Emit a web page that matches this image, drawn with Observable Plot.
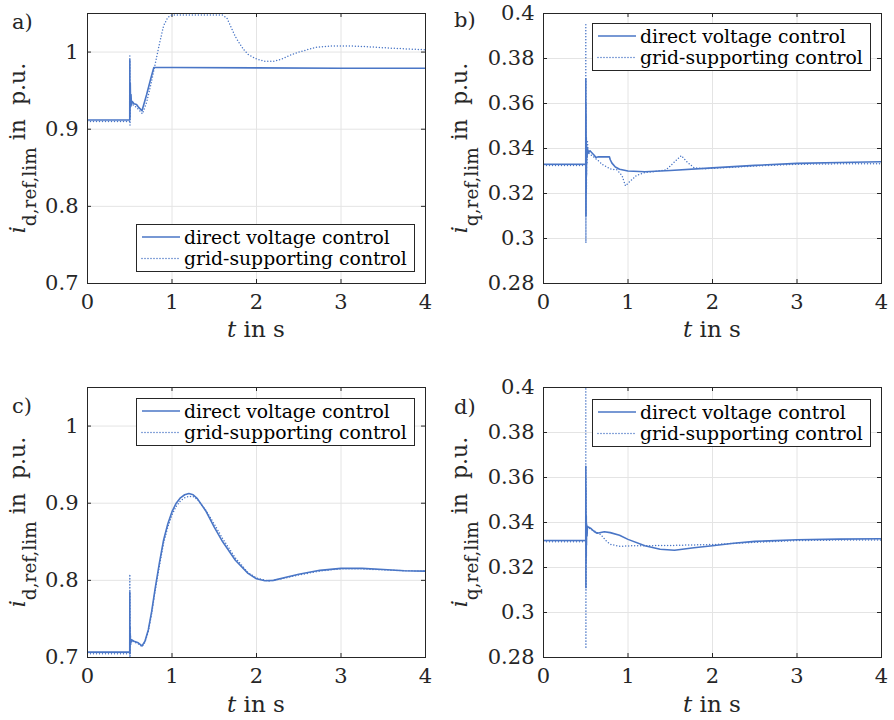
<!DOCTYPE html>
<html><head><meta charset="utf-8">
<script src="https://cdn.jsdelivr.net/npm/d3@7"></script>
<script src="https://cdn.jsdelivr.net/npm/@observablehq/plot@0.6"></script>
<style>
body{margin:0;background:#fff;}
#wrap{position:relative;width:894px;height:720px;overflow:hidden;background:#fff;}
#wrap svg{position:absolute;}
</style></head><body><div id="wrap"></div>
<script>
// ---------- data ----------
const seriesNames = ["direct voltage control", "grid-supporting control"];
const xTicks = [0, 1, 2, 3, 4];
const yTicksD = [0.7, 0.8, 0.9, 1];
const yTicksQ = [0.28, 0.3, 0.32, 0.34, 0.36, 0.38, 0.4];

// a) i_d, case 1
const aDirectT = [0, 0.5, 0.501, 0.503, 0.506, 0.51, 0.515, 0.52, 0.53, 0.55, 0.58, 0.6, 0.645, 0.7, 0.75, 0.785, 1.0, 2.0, 3.0, 4.0];
const aDirectV = [0.912, 0.912, 0.99, 0.915, 0.96, 0.93, 0.945, 0.932, 0.936, 0.933, 0.932, 0.929, 0.924, 0.945, 0.966, 0.98, 0.98, 0.9795, 0.979, 0.979];
const aGridT = [0, 0.5, 0.501, 0.503, 0.506, 0.51, 0.52, 0.55, 0.6, 0.65, 0.7, 0.75, 0.8, 0.85, 0.9, 0.95, 1.0, 1.3, 1.6, 1.65, 1.7, 1.75, 1.8, 1.85, 1.9, 2.0, 2.1, 2.2, 2.3, 2.4, 2.5, 2.7, 2.9, 3.1, 3.3, 3.6, 4.0];
const aGridV = [0.91, 0.91, 0.995, 0.905, 0.95, 0.928, 0.932, 0.931, 0.926, 0.92, 0.935, 0.958, 0.984, 1.01, 1.034, 1.045, 1.048, 1.048, 1.048, 1.044, 1.032, 1.02, 1.011, 1.003, 0.997, 0.991, 0.988, 0.988, 0.991, 0.996, 1.0, 1.006, 1.008, 1.008, 1.007, 1.005, 1.003];

// b) i_q, case 1
const bDirectT = [0, 0.5, 0.501, 0.502, 0.503, 0.504, 0.506, 0.508, 0.51, 0.515, 0.52, 0.53, 0.55, 0.6, 0.62, 0.65, 0.7, 0.78, 0.79, 0.81, 0.85, 0.9, 1.0, 1.2, 1.5, 2.0, 2.5, 3.0, 3.5, 4.0];
const bDirectV = [0.333, 0.333, 0.371, 0.31, 0.355, 0.32, 0.345, 0.328, 0.341, 0.336, 0.34, 0.338, 0.339, 0.337, 0.336, 0.3363, 0.3363, 0.3363, 0.335, 0.3335, 0.3318, 0.3308, 0.33, 0.3297, 0.3302, 0.3314, 0.3325, 0.3334, 0.3338, 0.3341];
const bGridT = [0, 0.5, 0.501, 0.502, 0.503, 0.504, 0.506, 0.508, 0.51, 0.515, 0.52, 0.53, 0.55, 0.6, 0.65, 0.7, 0.8, 0.87, 0.93, 0.97, 1.03, 1.1, 1.2, 1.3, 1.45, 1.55, 1.63, 1.7, 1.78, 1.9, 2.0, 2.5, 3.0, 3.5, 4.0];
const bGridV = [0.3325, 0.3325, 0.395, 0.298, 0.36, 0.31, 0.344, 0.322, 0.34, 0.333, 0.343, 0.338, 0.3375, 0.336, 0.3345, 0.3328, 0.3308, 0.3305, 0.3279, 0.3234, 0.3256, 0.328, 0.3293, 0.3297, 0.3305, 0.334, 0.3368, 0.334, 0.3315, 0.331, 0.3312, 0.3322, 0.333, 0.3332, 0.3332];

// c) i_d, case 2
const cDirectT = [0, 0.5, 0.501, 0.503, 0.506, 0.51, 0.52, 0.55, 0.6, 0.645, 0.68, 0.72, 0.76, 0.8, 0.85, 0.9, 0.95, 1.0, 1.05, 1.1, 1.15, 1.2, 1.25, 1.3, 1.4, 1.5, 1.6, 1.75, 1.9, 2.0, 2.1, 2.2, 2.35, 2.5, 2.75, 3.0, 3.25, 3.5, 3.75, 4.0];
const cDirectV = [0.707, 0.707, 0.785, 0.705, 0.73, 0.718, 0.723, 0.721, 0.719, 0.715, 0.721, 0.736, 0.76, 0.789, 0.822, 0.852, 0.873, 0.889, 0.9, 0.907, 0.911, 0.9125, 0.911, 0.906, 0.89, 0.869, 0.85, 0.826, 0.809, 0.802, 0.7995, 0.8, 0.804, 0.808, 0.813, 0.8155, 0.8155, 0.814, 0.8125, 0.812];
const cGridT = [0, 0.5, 0.501, 0.503, 0.506, 0.51, 0.52, 0.55, 0.6, 0.645, 0.68, 0.72, 0.76, 0.8, 0.85, 0.9, 0.95, 1.0, 1.05, 1.1, 1.15, 1.2, 1.25, 1.3, 1.4, 1.5, 1.6, 1.75, 1.9, 2.0, 2.15, 2.3, 2.5, 2.75, 3.0, 3.25, 3.5, 3.75, 4.0];
const cGridV = [0.705, 0.705, 0.808, 0.7, 0.74, 0.716, 0.722, 0.72, 0.718, 0.714, 0.72, 0.734, 0.757, 0.786, 0.818, 0.848, 0.869, 0.885, 0.896, 0.903, 0.907, 0.909, 0.9085, 0.905, 0.891, 0.873, 0.854, 0.829, 0.81, 0.803, 0.799, 0.802, 0.807, 0.812, 0.815, 0.815, 0.8135, 0.8125, 0.812];

// d) i_q, case 2
const dDirectT = [0, 0.5, 0.501, 0.502, 0.503, 0.504, 0.506, 0.508, 0.51, 0.515, 0.52, 0.53, 0.556, 0.6, 0.635, 0.72, 0.79, 0.9, 1.0, 1.2, 1.38, 1.55, 1.78, 2.0, 2.25, 2.5, 3.0, 3.5, 4.0];
const dDirectV = [0.332, 0.332, 0.365, 0.311, 0.355, 0.322, 0.343, 0.33, 0.339, 0.334, 0.338, 0.338, 0.3375, 0.336, 0.3352, 0.3359, 0.3355, 0.3343, 0.3325, 0.3297, 0.3281, 0.3277, 0.3288, 0.3297, 0.3308, 0.3316, 0.3323, 0.3326, 0.3328];
const dGridT = [0, 0.5, 0.501, 0.502, 0.503, 0.504, 0.506, 0.508, 0.51, 0.515, 0.517, 0.53, 0.55, 0.6, 0.675, 0.75, 0.8, 0.9, 1.0, 1.5, 2.0, 2.5, 3.0, 3.5, 4.0];
const dGridV = [0.3315, 0.3315, 0.42, 0.284, 0.36, 0.31, 0.343, 0.325, 0.34, 0.335, 0.3385, 0.338, 0.3372, 0.3362, 0.3347, 0.3315, 0.3302, 0.3294, 0.3296, 0.3298, 0.3302, 0.3312, 0.332, 0.3322, 0.3322];

// ---------- drawing ----------
const COLOR = "#4a76c6";
const INK = "#262626";
const GRID = "#e4e4e4";
const FONT = "'DejaVu Serif', serif";
const DOT = "0,3";

const zip = (t, v) => t.map((d, i) => ({t: d, v: v[i]}));
const fmt = d => String(+d.toFixed(2));

const panels = [
  {tag: "a)", sub: "d,ref,lim", left: 0, top: 0, H: 345, ml: 87, mr: 22, mt: 13, mb: 62,
   dom: [0.7, 1.05], yt: yTicksD, dir: zip(aDirectT, aDirectV), grd: zip(aGridT, aGridV),
   yl: 25, tagX: 12, tagY: 29, xlY: 337, leg: [136, 224]},
  {tag: "b)", sub: "q,ref,lim", left: 447, top: 0, H: 345, ml: 96, mr: 13, mt: 13, mb: 62,
   dom: [0.28, 0.4], yt: yTicksQ, dir: zip(bDirectT, bDirectV), grd: zip(bGridT, bGridV),
   yl: 20, tagX: 7, tagY: 27, xlY: 337, leg: [145, 23]},
  {tag: "c)", sub: "d,ref,lim", left: 0, top: 345, H: 375, ml: 87, mr: 22, mt: 42, mb: 63,
   dom: [0.7, 1.05], yt: yTicksD, dir: zip(cDirectT, cDirectV), grd: zip(cGridT, cGridV),
   yl: 25, tagX: 12, tagY: 68, xlY: 367, leg: [136, 53]},
  {tag: "d)", sub: "q,ref,lim", left: 447, top: 345, H: 375, ml: 96, mr: 13, mt: 42, mb: 63,
   dom: [0.28, 0.4], yt: yTicksQ, dir: zip(dDirectT, dDirectV), grd: zip(dGridT, dGridV),
   yl: 20, tagX: 7, tagY: 69, xlY: 367, leg: [145, 54]}
];

const wrap = document.getElementById("wrap");

for (const p of panels) {
  const W = 447;
  const iw = W - p.ml - p.mr, ih = p.H - p.mt - p.mb;
  const tl = 4;
  const chart = Plot.plot({
    width: W, height: p.H,
    marginLeft: p.ml, marginRight: p.mr, marginTop: p.mt, marginBottom: p.mb,
    style: {fontFamily: FONT, fontSize: "21px", color: INK, background: "transparent", overflow: "visible"},
    x: {domain: [0, 4], ticks: xTicks, tickSize: 0, tickPadding: 11, label: null, tickFormat: fmt},
    y: {domain: p.dom, ticks: p.yt, tickSize: 0, tickPadding: 9, label: null, tickFormat: fmt},
    marks: [
      Plot.ruleX(xTicks, {x: d => d, stroke: GRID, strokeWidth: 1}),
      Plot.ruleY(p.yt, {y: d => d, stroke: GRID, strokeWidth: 1}),
      Plot.tickX(xTicks, {x: d => d, insetTop: ih - tl, stroke: INK}),
      Plot.tickX(xTicks, {x: d => d, insetBottom: ih - tl, stroke: INK}),
      Plot.tickY(p.yt, {y: d => d, insetRight: iw - tl, stroke: INK}),
      Plot.tickY(p.yt, {y: d => d, insetLeft: iw - tl, stroke: INK}),
      Plot.line(p.grd, {x: "t", y: "v", stroke: COLOR, strokeWidth: 1.5, strokeDasharray: DOT, strokeLinecap: "round", clip: true}),
      Plot.line(p.dir, {x: "t", y: "v", stroke: COLOR, strokeWidth: 1.6, clip: true}),
      Plot.frame({stroke: INK, strokeWidth: 1})
    ]
  });
  chart.style.left = p.left + "px";
  chart.style.top = p.top + "px";
  wrap.appendChild(chart);

  const svg = d3.select(chart);
  const cx = p.ml + iw / 2, cy = p.mt + ih / 2;

  // y label
  const yl = svg.append("text")
    .attr("transform", `translate(${p.yl},${cy}) rotate(-90)`)
    .attr("text-anchor", "middle").attr("fill", INK)
    .attr("font-family", FONT).attr("font-size", 22)
    .style("white-space", "pre");
  yl.append("tspan").attr("font-style", "italic").text("i");
  yl.append("tspan").attr("font-size", 18.5).attr("dy", 11).text(p.sub);
  yl.append("tspan").attr("dy", -11).text(" in  p.u.");

  // x label
  const xl = svg.append("text")
    .attr("x", cx).attr("y", p.xlY)
    .attr("text-anchor", "middle").attr("fill", INK)
    .attr("font-family", FONT).attr("font-size", 23)
    .style("white-space", "pre");
  xl.append("tspan").attr("font-style", "italic").text("t");
  xl.append("tspan").text(" in s");

  // panel tag
  svg.append("text").attr("x", p.tagX).attr("y", p.tagY).attr("text-anchor", "start")
    .attr("fill", INK).attr("font-family", FONT).attr("font-size", 21).text(p.tag);

  // legend
  const [lx, ly] = p.leg;
  const g = svg.append("g");
  g.append("rect").attr("x", lx + 0.5).attr("y", ly + 0.5).attr("width", 278).attr("height", 47)
    .attr("fill", "#fff").attr("stroke", INK).attr("stroke-width", 1);
  const rows = [{dash: null, w: 1.6, ly: 13, ty: 20}, {dash: DOT, w: 1.5, ly: 34.5, ty: 41}];
  rows.forEach((r, i) => {
    const ln = g.append("line").attr("x1", lx + 6).attr("x2", lx + 44)
      .attr("y1", ly + r.ly).attr("y2", ly + r.ly)
      .attr("stroke", COLOR).attr("stroke-width", r.w);
    if (r.dash) ln.attr("stroke-dasharray", r.dash).attr("stroke-linecap", "round");
    g.append("text").attr("x", lx + 48).attr("y", ly + r.ty).attr("text-anchor", "start")
      .attr("fill", "#000").attr("font-family", FONT).attr("font-size", 18.8)
      .text(seriesNames[i]);
  });
}
</script>
</body></html>
